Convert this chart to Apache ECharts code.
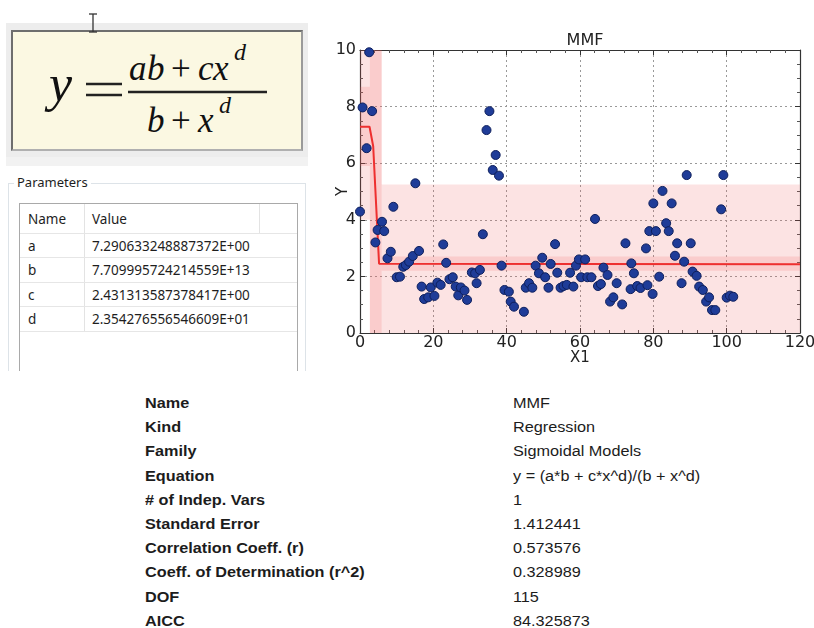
<!DOCTYPE html>
<html>
<head>
<meta charset="utf-8">
<script src="https://cdn.jsdelivr.net/npm/echarts@6/dist/echarts.min.js"></script>
<style>
  body { margin: 0; width: 814px; height: 628px; background: #fff; position: relative; overflow: hidden; }
  .abs { position: absolute; }
  #eqFrame { left: 6px; top: 23px; width: 302px; height: 134px; background: #ededed; }
  #eqBox { left: 11px; top: 30px; width: 288px; height: 117px; background: #fbf8e2;
    border-top: 2px solid #6e6e6e; border-left: 2px solid #6e6e6e; border-right: 2px solid #9a9a9a; border-bottom: 2px solid #b0b0b0; }
  #eqStrip { left: 6px; top: 157px; width: 302px; height: 9px; background: #f2f2f2; }
  #group { left: 8px; top: 183px; width: 296px; height: 187px; border: 1px solid #dde3e8; border-bottom: none; }
  #groupLabel { left: 14px; top: 173px; padding: 0 3px; background: #fff; font: 13px "Noto Sans", sans-serif; color: #1e1e1e; }
  #ptable { left: 19px; top: 203px; width: 277px; height: 167px; border: 1px solid #a9a9a9; border-bottom: none; background: #fff; }
  .cell { position: absolute; font: 13.5px "Noto Sans", sans-serif; color: #1e1e1e; white-space: nowrap; line-height: 16px; }
  .hline { position: absolute; height: 1px; background: #e6e6e6; }
  .vline { position: absolute; width: 1px; background: #e3e3e3; }
  .stat { position: absolute; font-size: 14px; font-family: "Liberation Sans", Arial, sans-serif; color: #1c1c1c;
    white-space: nowrap; transform: scaleX(1.16); transform-origin: 0 50%; line-height: 16px; }
  .stat.b { font-weight: bold; }
  #chart { left: 310px; top: 0px; width: 504px; height: 380px; }
</style>
</head>
<body>
<div id="eqFrame" class="abs"></div>
<div id="eqBox" class="abs"></div>
<div id="eqStrip" class="abs"></div>
<svg class="abs" style="left:0;top:0" width="310" height="170">
  <g stroke="#333" stroke-width="1.3" fill="none">
    <line x1="93" y1="14" x2="93" y2="32"/>
    <line x1="89" y1="14" x2="97" y2="14"/>
    <line x1="89" y1="32" x2="97" y2="32"/>
  </g>
  <g font-family="Liberation Serif, serif" fill="#111">
    <text x="49" y="101" font-size="52" font-style="italic">y</text>
    <line x1="86" y1="84" x2="122" y2="84" stroke="#222" stroke-width="2.3"/>
    <line x1="86" y1="95" x2="122" y2="95" stroke="#222" stroke-width="2.3"/>
    <text x="129" y="80" font-size="35" font-style="italic">a</text>
    <text x="147" y="80" font-size="35" font-style="italic">b</text>
    <text x="171" y="80" font-size="35">+</text>
    <text x="198" y="80" font-size="35" font-style="italic">c</text>
    <text x="213" y="80" font-size="35" font-style="italic">x</text>
    <text x="234" y="60" font-size="24" font-style="italic">d</text>
    <line x1="128" y1="92" x2="267" y2="92" stroke="#222" stroke-width="2.4"/>
    <text x="147" y="132" font-size="35" font-style="italic">b</text>
    <text x="171" y="132" font-size="35">+</text>
    <text x="198" y="132" font-size="35" font-style="italic">x</text>
    <text x="219" y="113" font-size="24" font-style="italic">d</text>
  </g>
</svg>
<div id="group" class="abs"></div>
<div id="groupLabel" class="abs">Parameters</div>
<div id="ptable" class="abs"></div>
<div id="chart" class="abs"></div>
<div id="stats"></div>

<script>
// fitted parameters
const paramNames = ['a', 'b', 'c', 'd']
const paramValues = ['7.290633248887372E+00', '7.709995724214559E+13', '2.431313587378417E+00', '2.354276556546609E+01']

// summary table
const statNames = ['Name', 'Kind', 'Family', 'Equation', '# of Indep. Vars', 'Standard Error',
  'Correlation Coeff. (r)', 'Coeff. of Determination (r^2)', 'DOF', 'AICC']
const statValues = ['MMF', 'Regression', 'Sigmoidal Models', 'y = (a*b + c*x^d)/(b + x^d)', '1', '1.412441',
  '0.573576', '0.328989', '115', '84.325873']

// observed points (X1, Y)
const xs = [0, 0.7, 1.8, 2.5, 3.3, 4.2, 4.8, 6.0, 6.6, 7.5, 8.4, 9.1, 10.0, 10.9, 11.8, 12.5, 13.4, 14.4, 15.1, 16.1,
  16.8, 17.5, 18.6, 19.3, 20.3, 21.1, 22.0, 22.7, 23.5, 24.4, 25.3, 26.1, 26.8, 27.5, 28.5, 29.2, 30.5, 31.4, 31.8, 32.7,
  33.5, 34.5, 35.3, 36.2, 37.0, 37.9, 38.6, 39.4, 40.6, 41.1, 42.0, 44.7, 45.2, 46.1, 47.0, 47.9, 48.8, 49.7, 50.5, 51.4,
  52.0, 53.2, 53.8, 54.7, 55.5, 56.4, 57.3, 58.2, 58.9, 59.7, 60.3, 61.4, 62.0, 63.1, 64.1, 64.9, 65.7, 66.4, 67.5, 68.2,
  69.1, 70.0, 71.5, 72.4, 73.8, 74.0, 74.7, 75.6, 76.5, 78.0, 78.4, 78.9, 79.8, 80.0, 80.7, 81.6, 82.5, 83.5, 84.2, 85.0,
  85.9, 86.5, 87.7, 88.4, 89.1, 90.2, 90.7, 91.8, 92.5, 93.5, 94.4, 95.2, 96.0, 96.9, 98.5, 99.1, 100.0, 100.9, 101.8]
const ys = [4.29, 7.97, 6.53, 9.92, 7.84, 3.20, 3.64, 3.93, 3.60, 2.64, 2.87, 4.46, 1.97, 1.99, 2.34, 2.40, 2.52, 2.72, 5.29, 2.90,
  1.64, 1.20, 1.26, 1.61, 1.31, 1.78, 1.70, 3.13, 2.48, 1.90, 1.97, 1.64, 1.33, 1.61, 1.50, 1.17, 2.14, 2.11, 1.76, 2.23,
  3.49, 7.17, 7.84, 5.76, 6.29, 5.56, 2.38, 1.52, 1.46, 1.11, 0.93, 0.75, 1.60, 1.76, 1.60, 2.38, 2.11, 2.66, 1.97, 1.60,
  2.44, 3.14, 2.13, 1.60, 1.66, 1.70, 2.13, 1.64, 2.38, 2.60, 1.97, 2.60, 1.97, 1.97, 4.03, 1.66, 1.73, 2.31, 2.05, 1.11,
  1.26, 1.76, 1.01, 3.17, 1.55, 2.46, 2.11, 1.66, 1.59, 2.99, 1.69, 3.60, 1.38, 4.58, 3.60, 1.99, 5.02, 3.88, 3.60, 4.58,
  2.73, 3.17, 1.76, 2.52, 5.58, 3.17, 2.17, 2.02, 1.64, 1.52, 1.11, 1.26, 0.81, 0.81, 4.37, 5.58, 1.25, 1.32, 1.28]

// fitted curve as drawn
const fitX = [0, 2.6, 3.6, 5.2, 120]
const fitY = [7.29, 7.29, 6.6, 2.45, 2.43]

// bands: [x1, x2, yLow, yHigh]
const predBand = [[0, 2.7, 4.0, 10], [2.7, 5.9, 0, 10], [5.9, 120, 0, 5.25]]
const confBand = [[0, 2.7, 5.9, 8.7], [2.7, 5.9, 0, 10], [5.9, 120, 2.2, 2.7]]

// parameter table
const pt = document.getElementById('ptable')
const rowH = 24.4
let html = '<div class="cell" style="left:8px;top:7px">Name</div><div class="cell" style="left:72px;top:7px">Value</div>'
html += '<div class="vline" style="left:64px;top:0;height:' + (29 + rowH * 4) + 'px"></div>'
html += '<div class="vline" style="left:239px;top:0;height:29px"></div>'
html += '<div class="hline" style="left:0;width:277px;top:29px"></div>'
paramNames.forEach((n, i) => {
  const top = 29 + rowH * i
  html += '<div class="cell" style="left:8px;top:' + (top + 5) + 'px">' + n + '</div>'
  html += '<div class="cell" style="left:72px;top:' + (top + 5) + 'px">' + paramValues[i] + '</div>'
  html += '<div class="hline" style="left:0;width:277px;top:' + (top + rowH) + 'px"></div>'
})
pt.innerHTML = html

// summary table
const st = document.getElementById('stats')
let sh = ''
statNames.forEach((n, i) => {
  const top = 395 + i * 24.2
  sh += '<div class="stat b" style="left:145px;top:' + top + 'px">' + n + '</div>'
  sh += '<div class="stat" style="left:513px;top:' + top + 'px">' + statValues[i] + '</div>'
})
st.innerHTML = sh

const chart = echarts.init(document.getElementById('chart'))

const toArea = (bands) => bands.map(b => [{coord: [b[0], b[2]]}, {coord: [b[1], b[3]]}])

const font = 'DejaVu Sans'
const tickStyle = {inside: true, length: 5, lineStyle: {color: '#333'}}
const minorStyle = {show: true, length: 3, lineStyle: {color: '#555'}}
const lineStyle = {show: true, onZero: false, lineStyle: {color: '#333', width: 1.2}}

const option = {
  animation: false,
  title: {
    text: 'MMF', left: 270, top: 28, textAlign: 'center',
    textStyle: {fontSize: 16, fontWeight: 'normal', color: '#222', fontFamily: font}
  },
  grid: {left: 50, top: 50, width: 440, height: 283, containLabel: false, outerBoundsMode: 'none'},
  xAxis: [
    {
      type: 'value', min: 0, max: 120, interval: 20, position: 'bottom',
      name: 'X1', nameLocation: 'middle', nameGap: 18, nameMoveOverlap: false,
      nameTextStyle: {fontSize: 15, color: '#222', fontFamily: font},
      axisLine: lineStyle, axisTick: tickStyle,
      minorTick: Object.assign({splitNumber: 5}, minorStyle),
      axisLabel: {fontSize: 16, color: '#222', margin: 2, fontFamily: font},
      splitLine: {show: true, lineStyle: {color: '#999', type: [2, 3]}}
    },
    {
      type: 'value', min: 0, max: 120, interval: 20, position: 'top',
      axisLine: lineStyle, axisTick: tickStyle,
      minorTick: Object.assign({splitNumber: 5}, minorStyle),
      axisLabel: {show: false}, splitLine: {show: false}
    }
  ],
  yAxis: [
    {
      type: 'value', min: 0, max: 10, interval: 2, position: 'left',
      name: 'Y', nameLocation: 'middle', nameGap: 9, nameRotate: 90, nameMoveOverlap: false,
      nameTextStyle: {fontSize: 15, color: '#222', fontFamily: font},
      axisLine: lineStyle, axisTick: tickStyle,
      minorTick: Object.assign({splitNumber: 4}, minorStyle),
      axisLabel: {fontSize: 16, color: '#222', margin: 4, fontFamily: font},
      splitLine: {show: true, lineStyle: {color: '#999', type: [2, 3]}}
    },
    {
      type: 'value', min: 0, max: 10, interval: 2, position: 'right',
      axisLine: lineStyle, axisTick: tickStyle,
      minorTick: Object.assign({splitNumber: 4}, minorStyle),
      axisLabel: {show: false}, splitLine: {show: false}
    }
  ],
  series: [
    {
      name: 'prediction',
      type: 'line',
      data: fitX.map((x, i) => [x, fitY[i]]),
      showSymbol: false,
      lineStyle: {opacity: 0},
      silent: true,
      markArea: {silent: true, itemStyle: {color: 'rgba(240,90,90,0.17)'}, data: toArea(predBand)}
    },
    {
      name: 'fit',
      type: 'line',
      data: fitX.map((x, i) => [x, fitY[i]]),
      showSymbol: false,
      z: 3,
      lineStyle: {color: '#ee2f2f', width: 2},
      markArea: {silent: true, itemStyle: {color: 'rgba(240,90,90,0.17)'}, data: toArea(confBand)}
    },
    {
      name: 'data',
      type: 'scatter',
      data: xs.map((x, i) => [x, ys[i]]),
      symbolSize: 9,
      z: 5,
      itemStyle: {color: '#1f3c98', borderColor: '#0e1f5c', borderWidth: 1, opacity: 1}
    }
  ]
}
chart.setOption(option)
</script>
</body>
</html>
